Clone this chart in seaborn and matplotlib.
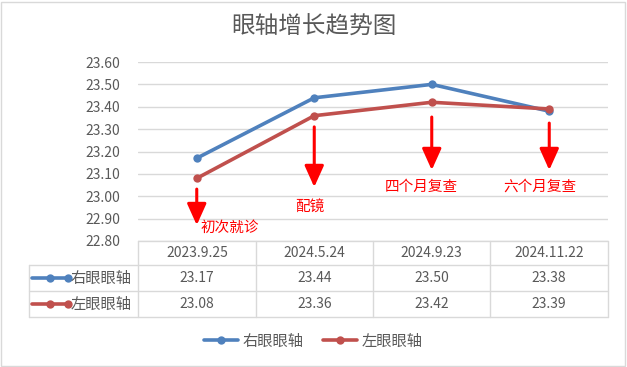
import pandas as pd
import numpy as np
import matplotlib.pyplot as plt
import seaborn as sns
from matplotlib.lines import Line2D
from matplotlib.patches import Rectangle

dates = ["2023.9.25", "2024.5.24", "2024.9.23", "2024.11.22"]
right_eye = [23.17, 23.44, 23.50, 23.38]
left_eye = [23.08, 23.36, 23.42, 23.39]
series_names = ["右眼眼轴", "左眼眼轴"]
notes = ["初次就诊", "配镜", "四个月复查", "六个月复查"]

colors = {"右眼眼轴": "#4f81bd", "左眼眼轴": "#c0504d"}
grey = "#595959"
grid = "#d9d9d9"

sns.set_style("white")
plt.rcParams['font.family'] = ['Noto Sans CJK SC', 'DejaVu Sans']

W, H = 627, 367
fig = plt.figure(figsize=(W / 100, H / 100), dpi=100)

def fx(x):
    return x / W

def fy(y):
    return 1 - y / H

# plot area in pixels
L, R, T, B = 138, 608, 62, 241
ax = fig.add_axes([fx(L), fy(B), fx(R - L), (B - T) / H])

df = pd.DataFrame({
    "date": dates * 2,
    "value": right_eye + left_eye,
    "eye": [series_names[0]] * 4 + [series_names[1]] * 4,
})
df["pos"] = np.tile(np.arange(len(dates)), 2)

sns.lineplot(data=df, x="pos", y="value", hue="eye", palette=colors,
             marker="o", markersize=6, markeredgewidth=0, linewidth=2.6,
             legend=False, ax=ax)

ax.set_xlim(-0.5, len(dates) - 0.5)
ax.set_ylim(22.80, 23.60)
ax.set_yticks(np.arange(22.80, 23.61, 0.10))
ax.set_yticklabels([f"{v:.2f}" for v in np.arange(22.80, 23.61, 0.10)])
ax.set_xticks([])
ax.set_xlabel("")
ax.set_ylabel("")
ax.tick_params(axis="y", length=0, pad=13, labelsize=10, labelcolor=grey)
ax.yaxis.grid(True, color=grid, lw=1)
for s in ax.spines.values():
    s.set_visible(False)

# red arrow annotations
arrow_top = [23.032, 23.310, 23.354, 23.327]
arrow_tip = [22.871, 23.041, 23.117, 23.117]
note_pos = [(0.03, 22.858, "left"), (0.964, 22.952, "center"),
            (1.909, 23.041, "center"), (2.921, 23.041, "center")]
for i in range(len(dates)):
    ax.annotate("", xy=(i, arrow_tip[i]), xytext=(i, arrow_top[i]),
                arrowprops=dict(arrowstyle="-|>,head_length=1.0,head_width=0.45",
                                color="#ff0000", lw=2.2, mutation_scale=13,
                                shrinkA=0, shrinkB=0))
    x, y, ha = note_pos[i]
    ax.text(x, y, notes[i], color="#ff0000", fontsize=10.5, ha=ha, va="center")

# title
fig.text(0.5, fy(27), "眼轴增长趋势图", ha="center", va="center",
         fontsize=17, color=grey)

# data table
cols = [138, 256, 373, 490, 608]
rows = [241, 265, 291, 317]
lw = 1
fig.add_artist(Line2D([fx(138), fx(608)], [fy(241)] * 2, color=grid, lw=lw))
for y in rows[1:]:
    fig.add_artist(Line2D([fx(29), fx(608)], [fy(y)] * 2, color=grid, lw=lw))
for x in cols:
    fig.add_artist(Line2D([fx(x)] * 2, [fy(241), fy(317)], color=grid, lw=lw))
fig.add_artist(Line2D([fx(29)] * 2, [fy(265), fy(317)], color=grid, lw=lw))

for j, d in enumerate(dates):
    cx = (cols[j] + cols[j + 1]) / 2
    fig.text(fx(cx), fy(253), d, ha="center", va="center", fontsize=10, color=grey)
    fig.text(fx(cx), fy(278), f"{right_eye[j]:.2f}", ha="center", va="center",
             fontsize=10, color=grey)
    fig.text(fx(cx), fy(304), f"{left_eye[j]:.2f}", ha="center", va="center",
             fontsize=10, color=grey)

for name, yc in zip(series_names, [278, 304]):
    fig.add_artist(Line2D([fx(32), fx(68)], [fy(yc)] * 2, color=colors[name],
                          lw=2.6, marker="o", markevery=[1], markersize=6,
                          markeredgewidth=0))
    fig.add_artist(Line2D([fx(50)], [fy(yc)], color=colors[name],
                          marker="o", markersize=6, markeredgewidth=0, lw=0))
    fig.text(fx(71), fy(yc), name, ha="left", va="center", fontsize=11, color=grey)

# legend
handles = [Line2D([], [], color=colors[n], lw=2.6, marker="o", markersize=6,
                  markeredgewidth=0) for n in series_names]
fig.legend(handles, series_names, loc="center", bbox_to_anchor=(0.5, fy(341)),
           ncol=2, frameon=False, fontsize=11, labelcolor=grey,
           handlelength=2.2, handletextpad=0.3, columnspacing=1.3)

# chart border
fig.add_artist(Rectangle((fx(1), fy(366)), fx(624), (364) / H, fill=False,
                         edgecolor=grid, lw=1))

fig.savefig("out.png", dpi=100)
plt.close(fig)
